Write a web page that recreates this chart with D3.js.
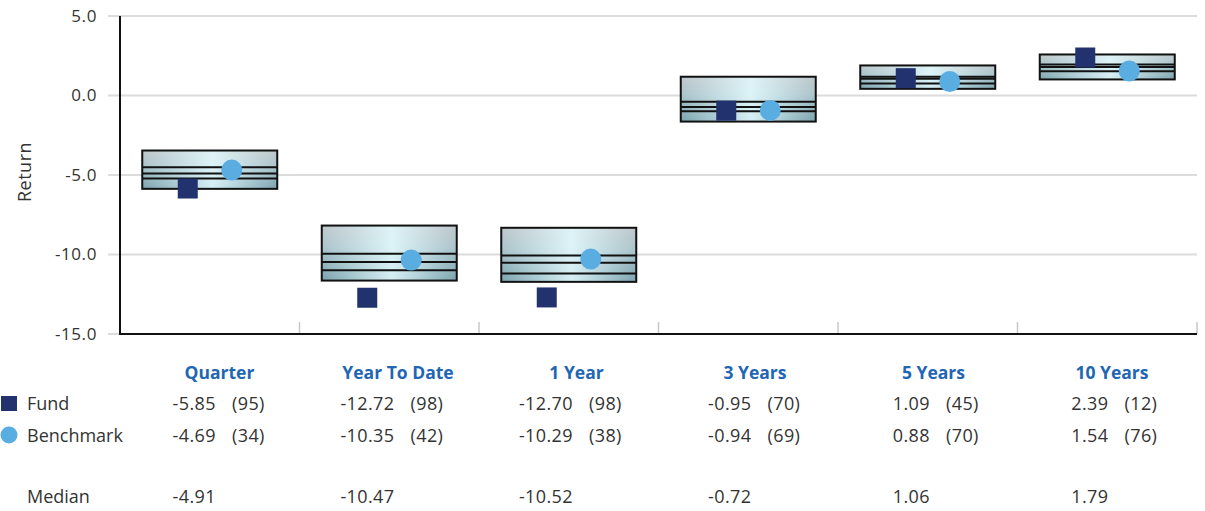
<!DOCTYPE html>
<html><head><meta charset="utf-8">
<script src="https://cdn.jsdelivr.net/npm/d3@7"></script>
<style>
body{margin:0;background:#fff;}
svg{display:block;font-family:"Open Sans","Noto Sans",sans-serif;}
</style></head>
<body><svg id="chart" width="1205" height="511"></svg>
<script>
const categories = ["Quarter","Year To Date","1 Year","3 Years","5 Years","10 Years"];
const p5     = [-3.46, -8.18, -8.32,  1.18, 1.89, 2.58];
const p25    = [-4.51, -9.96, -10.06, -0.40, 1.18, 1.95];
const median = [-4.91, -10.47, -10.52, -0.72, 1.06, 1.79];
const p75    = [-5.22, -10.99, -11.19, -0.99, 0.75, 1.53];
const p95    = [-5.87, -11.64, -11.72, -1.64, 0.42, 1.01];
const fund      = [-5.85, -12.72, -12.70, -0.95, 1.09, 2.39];
const fundRank  = [95, 98, 98, 70, 45, 12];
const bench     = [-4.69, -10.35, -10.29, -0.94, 0.88, 1.54];
const benchRank = [34, 42, 38, 69, 70, 76];
const yTicks = [5, 0, -5, -10, -15];

const svg = d3.select("#chart");
const mLeft = 120, mRight = 1197, mTop = 16, mBottom = 334;
const x = d3.scaleBand().domain(categories).range([mLeft, mRight]).paddingInner(0).paddingOuter(0);
const y = d3.scaleLinear().domain([-15, 5]).range([mBottom, mTop]);
const bw = x.bandwidth();
const cx = c => x(c) + bw / 2;
// table columns
const tx = d3.scaleBand().domain(categories).range([130.25, 1201.25]);
const tcx = c => tx(c) + tx.bandwidth() / 2;

const defs = svg.append("defs");
const vg = defs.append("linearGradient").attr("id","vg").attr("x1",0).attr("y1",0).attr("x2",0).attr("y2",1);
vg.append("stop").attr("offset","0%").attr("stop-color","#bfc7ca");
vg.append("stop").attr("offset","40%").attr("stop-color","#abc4cb");
vg.append("stop").attr("offset","100%").attr("stop-color","#7aa3ae");
const hg = defs.append("linearGradient").attr("id","hg").attr("x1",0).attr("y1",0).attr("x2",1).attr("y2",0);
hg.append("stop").attr("offset","0%").attr("stop-color","#e4fbff").attr("stop-opacity",0);
hg.append("stop").attr("offset","52%").attr("stop-color","#e4fbff").attr("stop-opacity",0.85);
hg.append("stop").attr("offset","100%").attr("stop-color","#e4fbff").attr("stop-opacity",0);

// gridlines
svg.append("g").selectAll("line").data(yTicks).join("line")
  .attr("x1", 108).attr("x2", mRight).attr("y1", d => y(d)).attr("y2", d => y(d))
  .attr("stroke", "#dcdcdc").attr("stroke-width", 2);

// y tick labels
svg.append("g").selectAll("text").data(yTicks).join("text")
  .attr("x", 97).attr("y", d => y(d)).attr("dy", "0.35em").attr("text-anchor","end")
  .attr("font-size", 17).attr("letter-spacing", 0.6).attr("fill", "#333").text(d => d.toFixed(1));

// y title
svg.append("text").attr("transform", `translate(31,${(mTop+mBottom)/2 - 3}) rotate(-90)`)
  .attr("text-anchor","middle").attr("font-size",18).attr("letter-spacing", 0.5).attr("fill","#333").text("Return");

// category ticks
svg.append("g").selectAll("line").data(categories).join("line")
  .attr("x1", d => x(d) + bw).attr("x2", d => x(d) + bw).attr("y1", 322).attr("y2", mBottom)
  .attr("stroke", "#c8c8c8").attr("stroke-width", 1.5);

// axes
svg.append("line").attr("x1", mLeft).attr("x2", mLeft).attr("y1", mTop).attr("y2", mBottom + 1)
  .attr("stroke", "#111").attr("stroke-width", 2);
svg.append("line").attr("x1", mLeft - 1).attr("x2", mRight).attr("y1", mBottom).attr("y2", mBottom)
  .attr("stroke", "#111").attr("stroke-width", 2);

// boxes
const boxW = 135;
const boxes = svg.append("g").selectAll("g").data(categories).join("g");
boxes.append("rect").attr("x", c => cx(c) - boxW/2).attr("width", boxW)
  .attr("y", (c,i) => y(p5[i])).attr("height", (c,i) => y(p95[i]) - y(p5[i]))
  .attr("fill", "url(#vg)");
boxes.append("rect").attr("x", c => cx(c) - boxW/2).attr("width", boxW)
  .attr("y", (c,i) => y(p5[i])).attr("height", (c,i) => y(p95[i]) - y(p5[i]))
  .attr("fill", "url(#hg)").attr("stroke", "#111").attr("stroke-width", 2);
[p25, median, p75].forEach(arr => {
  boxes.append("line").attr("x1", c => cx(c) - boxW/2).attr("x2", c => cx(c) + boxW/2)
    .attr("y1", (c,i) => y(arr[i])).attr("y2", (c,i) => y(arr[i]))
    .attr("stroke", "#111").attr("stroke-width", 2);
});

// markers
const sq = 20;
svg.append("g").selectAll("rect").data(categories).join("rect")
  .attr("x", c => cx(c) - 22 - sq/2).attr("y", (c,i) => y(fund[i]) - sq/2)
  .attr("width", sq).attr("height", sq).attr("fill", "#22326e");
svg.append("g").selectAll("circle").data(categories).join("circle")
  .attr("cx", c => cx(c) + 22).attr("cy", (c,i) => y(bench[i])).attr("r", 10.5)
  .attr("fill", "#5aade0");

// table
const tColor = "#333";
svg.append("g").selectAll("text").data(categories).join("text")
  .attr("x", c => tcx(c)).attr("y", 373).attr("dy","0.35em").attr("text-anchor","middle")
  .attr("font-size", 17.5).attr("font-weight", 700).attr("fill", "#1f66b3").text(c => c);

svg.append("rect").attr("x", 1).attr("y", 396).attr("width", 16).attr("height", 15).attr("fill", "#22326e");
svg.append("circle").attr("cx", 9).attr("cy", 435).attr("r", 8.5).attr("fill", "#5aade0");
const rows = [
  {label:"Fund", y:404, vals:fund, ranks:fundRank},
  {label:"Benchmark", y:436, vals:bench, ranks:benchRank},
  {label:"Median", y:497, vals:median, ranks:null}
];
rows.forEach(r => {
  svg.append("text").attr("x", 27).attr("y", r.y).attr("dy","0.35em")
    .attr("font-size", 18).attr("fill", tColor).text(r.label);
  svg.append("g").selectAll("text").data(categories).join("text")
    .attr("x", c => tcx(c) - 3.5).attr("y", r.y).attr("dy","0.35em").attr("text-anchor","end")
    .attr("font-size", 18).attr("letter-spacing", 0.4).attr("fill", tColor).text((c,i) => r.vals[i].toFixed(2));
  if (r.ranks) {
    svg.append("g").selectAll("text").data(categories).join("text")
      .attr("x", c => tcx(c) + 12.5).attr("y", r.y).attr("dy","0.35em")
      .attr("font-size", 18).attr("letter-spacing", 0.4).attr("fill", tColor).text((c,i) => "(" + r.ranks[i] + ")");
  }
});
</script></body></html>
